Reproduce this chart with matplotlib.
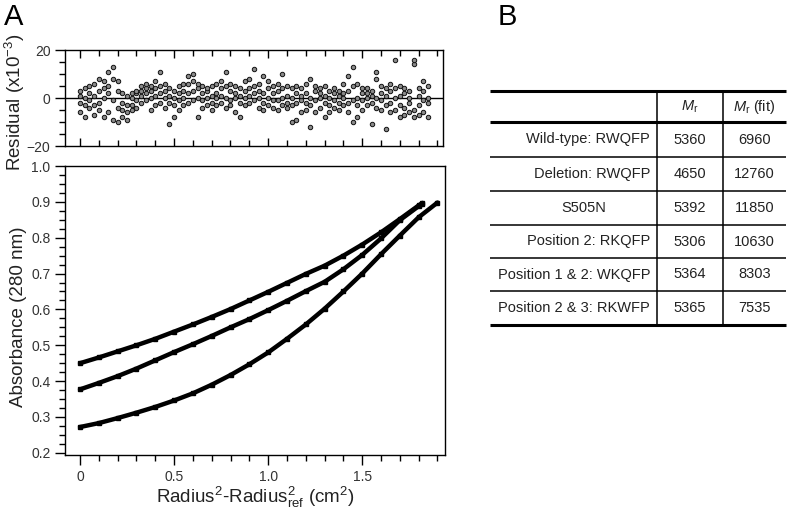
import numpy as np
import matplotlib
matplotlib.use('Agg')
import matplotlib.pyplot as plt
from matplotlib.ticker import MultipleLocator

plt.rcParams['font.family'] = ['Liberation Sans', 'DejaVu Sans']
plt.rcParams['mathtext.fontset'] = 'custom'
plt.rcParams['mathtext.rm'] = 'Liberation Sans'
plt.rcParams['mathtext.it'] = 'Liberation Sans:italic'

# absorbance curves
x_top = [0.0, 0.1, 0.2, 0.3, 0.4, 0.5, 0.6, 0.7, 0.8, 0.9, 1.0, 1.1, 1.2, 1.3, 1.4, 1.5, 1.6, 1.7, 1.8, 1.82]
a_top = [0.450, 0.466, 0.483, 0.500, 0.518, 0.538, 0.558, 0.579, 0.601, 0.625, 0.649, 0.674, 0.699, 0.722, 0.750, 0.781, 0.815, 0.852, 0.890, 0.897]
x_mid = [0.0, 0.1, 0.2, 0.3, 0.4, 0.5, 0.6, 0.7, 0.8, 0.9, 1.0, 1.1, 1.2, 1.3, 1.4, 1.5, 1.6, 1.7, 1.8, 1.82]
a_mid = [0.377, 0.395, 0.414, 0.435, 0.458, 0.481, 0.503, 0.526, 0.550, 0.573, 0.598, 0.624, 0.651, 0.677, 0.712, 0.752, 0.798, 0.849, 0.888, 0.895]
x_low = [0.0, 0.1, 0.2, 0.3, 0.4, 0.5, 0.6, 0.7, 0.8, 0.9, 1.0, 1.1, 1.2, 1.3, 1.4, 1.5, 1.6, 1.7, 1.8, 1.9]
a_low = [0.272, 0.283, 0.297, 0.312, 0.328, 0.346, 0.366, 0.390, 0.417, 0.447, 0.480, 0.518, 0.558, 0.602, 0.650, 0.700, 0.754, 0.806, 0.857, 0.898]

# residuals (x10^-3): x, then four values at that x
resid = [
    [0.000, -6, -2, 1, 3], [0.025, -8, -3, 0, 4], [0.050, -4, 2, 5, -1], [0.075, -7, 1, 6, -3],
    [0.100, -5, 3, 8, -2], [0.125, -8, 0, 7, 4], [0.150, -6, 2, 11, 5], [0.175, -9, -1, 13, 8],
    [0.200, -10, -4, 3, 7], [0.225, -8, -5, -2, 2], [0.250, -9, -6, -3, 1], [0.275, -5, -3, 0, 2],
    [0.300, -4, -1, 2, 3], [0.325, -2, 1, 3, 5], [0.350, -1, 2, 4, 6], [0.375, -5, 0, 3, 5],
    [0.400, -3, 1, 4, 7], [0.425, -2, 2, 5, 11], [0.450, -4, 0, 3, 6], [0.475, -11, -2, 1, 4],
    [0.500, -8, -3, 0, 3], [0.525, -5, -1, 2, 5], [0.550, -3, 0, 3, 6], [0.575, -2, 2, 6, 9],
    [0.600, -1, 3, 7, 10], [0.625, -8, 0, 4, 6], [0.650, -4, -1, 2, 5], [0.675, -3, 0, 3, 4],
    [0.700, -5, -2, 1, 5], [0.725, -3, 0, 2, 6], [0.750, -2, 1, 4, 7], [0.775, -4, 0, 5, 11],
    [0.800, -3, -1, 3, 6], [0.825, -6, 0, 2, 5], [0.850, -8, -2, 1, 4], [0.875, -3, 0, 3, 7],
    [0.900, -2, 1, 4, 8], [0.925, -1, 2, 5, 12], [0.950, -4, 0, 3, 6], [0.975, -5, -2, 2, 9],
    [1.000, -3, 0, 4, 7], [1.025, -4, -1, 2, 5], [1.050, -5, -1, 3, 6], [1.075, -3, 0, 4, 10],
    [1.100, -4, -2, 1, 5], [1.125, -10, -3, 0, 4], [1.150, -9, -2, 2, 5], [1.175, -6, -1, 1, 4],
    [1.200, -5, -2, 2, 6], [1.225, -12, -3, 0, 8], [1.250, -6, -1, 3, 5], [1.275, -4, 0, 2, 4],
    [1.300, -8, -2, 1, 5], [1.325, -6, -3, 0, 3], [1.350, -4, -1, 2, 4], [1.375, -5, -2, 1, 3],
    [1.400, -3, 0, 2, 6], [1.425, -6, -2, 3, 9], [1.450, -10, -1, 5, 13], [1.475, -8, -3, 0, 6],
    [1.500, -5, -1, 2, 4], [1.525, -3, 0, 2, 4], [1.550, -11, -2, 1, 3], [1.575, -4, 0, 8, 11],
    [1.600, -5, -1, 2, 5], [1.625, -13, -3, 1, 4], [1.650, -6, -2, 3, 6], [1.675, -5, 0, 4, 16],
    [1.700, -8, -3, 1, 5], [1.725, -7, -4, 2, 4], [1.750, -6, -2, 0, 3], [1.775, -8, -5, 14, 16],
    [1.800, -7, -3, 1, 4], [1.825, -6, -1, 3, 7], [1.850, -8, -2, 0, 5],
]

# table B
row_labels = ['Wild-type: RWQFP', 'Deletion: RWQFP', 'S505N', 'Position 2: RKQFP',
              'Position 1 & 2: WKQFP', 'Position 2 & 3: RKWFP']
mr = ['5360', '4650', '5392', '5306', '5364', '5365']
mr_fit = ['6960', '12760', '11850', '10630', '8303', '7535']

W, H = 792, 512
fig = plt.figure(figsize=(W / 100, H / 100), dpi=100)
tick_col = '#333333'
lab_col = '#222222'

# --- residual panel
axr = fig.add_axes([65 / W, 1 - 146 / H, 378 / W, 96 / H])
rx, ry = [], []
for row in resid:
    for v in row[1:]:
        rx.append(row[0])
        ry.append(v)
axr.axhline(0, color='k', lw=1.0, zorder=1)
axr.plot(rx, ry, 'o', ms=3.2, mfc='#8a8a8a', mec='#111111', mew=0.7, zorder=2)
axr.set_xlim(-0.08, 1.93)
axr.set_ylim(-20, 20)
axr.set_yticks([-20, 0, 20])
axr.yaxis.set_minor_locator(MultipleLocator(5))
axr.xaxis.set_major_locator(MultipleLocator(0.5))
axr.xaxis.set_minor_locator(MultipleLocator(0.1))
axr.tick_params(axis='x', which='both', direction='in', top=True, bottom=True, labelbottom=False)
axr.tick_params(axis='x', which='major', length=6, width=1)
axr.tick_params(axis='x', which='minor', length=4, width=1)
axr.tick_params(axis='y', which='major', length=7, width=1, labelsize=10, labelcolor=tick_col)
axr.tick_params(axis='y', which='minor', length=4, width=1)
axr.set_ylabel('Residual (x10$^{-3}$)', fontsize=13.5, color=lab_col)
axr.yaxis.set_label_coords(-0.10, 0.45)

# --- absorbance panel
axa = fig.add_axes([65 / W, 1 - 455 / H, 380 / W, 289 / H])
for xs, ys in [(x_top, a_top), (x_mid, a_mid), (x_low, a_low)]:
    axa.plot(xs, ys, '-', color='k', lw=3.2, solid_capstyle='round')
    axa.plot(xs, ys, 's', color='k', ms=3)
axa.set_xlim(-0.08, 1.94)
axa.set_ylim(0.194, 1.0)
axa.xaxis.set_major_locator(MultipleLocator(0.5))
axa.xaxis.set_minor_locator(MultipleLocator(0.1))
axa.yaxis.set_major_locator(MultipleLocator(0.1))
axa.yaxis.set_minor_locator(MultipleLocator(0.025))
axa.set_xticks([0, 0.5, 1.0, 1.5])
axa.set_xticklabels(['0', '0.5', '1.0', '1.5'])
axa.yaxis.set_major_formatter(plt.FormatStrFormatter('%.1f'))
axa.tick_params(which='major', length=7, width=1, labelsize=10, labelcolor=tick_col)
axa.tick_params(which='minor', length=4, width=1)
axa.set_ylabel('Absorbance (280 nm)', fontsize=13.5, color=lab_col)
axa.yaxis.set_label_coords(-0.10, 0.48)
axa.set_xlabel('Radius$^2$-Radius$^2_{\\rm ref}$ (cm$^2$)', fontsize=13.5, color=lab_col)
axa.xaxis.set_label_coords(0.5, -0.105)

for ax in (axr, axa):
    for s in ax.spines.values():
        s.set_linewidth(1.0)

# --- panel letters
fig.text(14 / W, 1 - 17 / H, 'A', fontsize=21, ha='center', va='center')
fig.text(507 / W, 1 - 17 / H, 'B', fontsize=21, ha='center', va='center')

# --- table
tb = fig.add_axes([0, 0, 1, 1])
tb.set_xlim(0, W)
tb.set_ylim(H, 0)
tb.axis('off')
x0, x1 = 490, 786
c1, c2 = 657, 723
lines_y = [91, 122, 157, 191, 225, 258, 291, 325]
for i, y in enumerate(lines_y):
    thick = i in (0, 1, len(lines_y) - 1)
    tb.plot([x0, x1], [y, y], color='k', lw=2.2 if thick else 1.1, solid_capstyle='butt')
for xv in (c1, c2):
    tb.plot([xv, xv], [lines_y[0], lines_y[-1]], color='k', lw=1.1)
fs = 10.5
tc = '#222222'
yh = (lines_y[0] + lines_y[1]) / 2
tb.text((c1 + c2) / 2, yh, '$M_{\\rm r}$', fontsize=fs, ha='center', va='center', color=tc)
tb.text((c2 + x1) / 2, yh, '$M_{\\rm r}$ (fit)', fontsize=fs, ha='center', va='center', color=tc)
for i, lab in enumerate(row_labels):
    yc = (lines_y[i + 1] + lines_y[i + 2]) / 2
    if lab == 'S505N':
        tb.text(584, yc, lab, fontsize=fs, ha='center', va='center', color=tc)
    else:
        tb.text(650, yc, lab, fontsize=fs, ha='right', va='center', color=tc)
    tb.text((c1 + c2) / 2, yc, mr[i], fontsize=fs, ha='center', va='center', color=tc)
    tb.text((c2 + x1) / 2, yc, mr_fit[i], fontsize=fs, ha='center', va='center', color=tc)

fig.savefig('out.png', dpi=100)
